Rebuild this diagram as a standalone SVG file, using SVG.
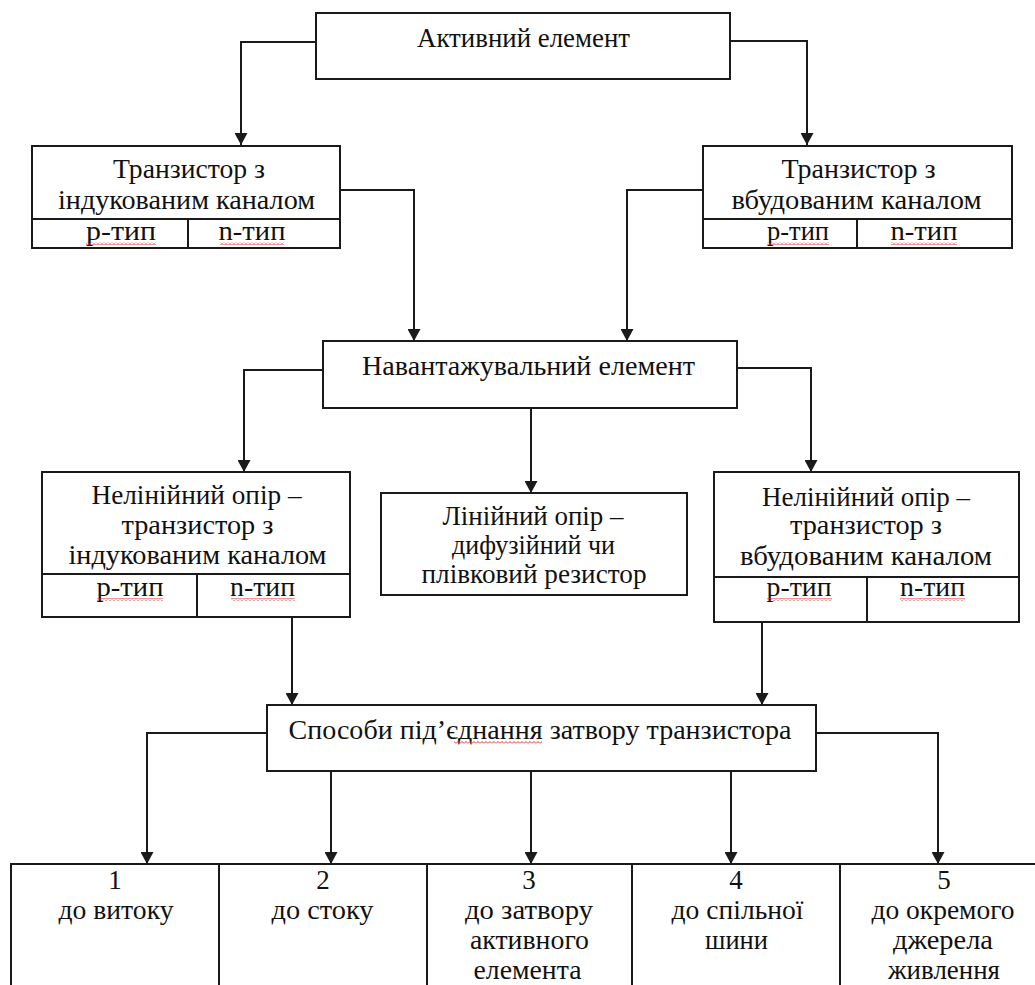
<svg xmlns="http://www.w3.org/2000/svg" width="1035" height="985" viewBox="0 0 1035 985" font-family="'Liberation Serif', 'Times New Roman', serif">
<style>
.box{fill:#fff;stroke:#1a1a1a;stroke-width:2}
.ln{fill:none;stroke:#1a1a1a;stroke-width:2}
.t{font-family:'Liberation Serif','Times New Roman',serif;font-size:27px;fill:#111;text-anchor:middle}
.sq{fill:url(#squig)}
</style>
<defs>
<marker id="arr" markerUnits="userSpaceOnUse" markerWidth="13" markerHeight="13" refX="12" refY="6.5" orient="auto">
<path d="M0,0 L12,6.5 L0,13 z" fill="#1a1a1a"/>
</marker>
<pattern id="squig" patternUnits="userSpaceOnUse" width="4" height="3">
<path d="M0,2.5 L2,0.5 L4,2.5" fill="none" stroke="#e03030" stroke-width="1"/>
</pattern>
</defs>
<rect width="1035" height="985" fill="#fff"/>

<g id="connectors">
<path class="ln" d="M316,42 H241 V145" marker-end="url(#arr)"/>
<path class="ln" d="M730,41 H807 V145" marker-end="url(#arr)"/>
<path class="ln" d="M340,190 H414 V341" marker-end="url(#arr)"/>
<path class="ln" d="M703,190 H627 V341" marker-end="url(#arr)"/>
<path class="ln" d="M323,370 H244 V472" marker-end="url(#arr)"/>
<path class="ln" d="M737,368 H811 V472" marker-end="url(#arr)"/>
<path class="ln" d="M531,408 V493" marker-end="url(#arr)"/>
<path class="ln" d="M292,617 V705" marker-end="url(#arr)"/>
<path class="ln" d="M762,622 V705" marker-end="url(#arr)"/>
<path class="ln" d="M267,733 H147 V864" marker-end="url(#arr)"/>
<path class="ln" d="M331,771 V864" marker-end="url(#arr)"/>
<path class="ln" d="M531,771 V864" marker-end="url(#arr)"/>
<path class="ln" d="M731,771 V864" marker-end="url(#arr)"/>
<path class="ln" d="M816,733 H938 V864" marker-end="url(#arr)"/>
</g>

<g id="active">
<rect class="box" x="316" y="13" width="414" height="66"/>
<text class="t" x="523.5" y="47" textLength="213" lengthAdjust="spacingAndGlyphs">Активний елемент</text>
</g>

<g id="tr-induced">
<rect class="box" x="32" y="146" width="308" height="102"/>
<path class="ln" d="M32,219 H340 M188,219 V248"/>
<text class="t" x="189" y="178" textLength="152" lengthAdjust="spacingAndGlyphs">Транзистор з</text>
<text class="t" x="186.5" y="209" textLength="257" lengthAdjust="spacingAndGlyphs">індукованим каналом</text>
<text class="t" x="121" y="240" textLength="70" lengthAdjust="spacingAndGlyphs">p-тип</text>
<text class="t" x="252" y="240" textLength="67" lengthAdjust="spacingAndGlyphs">n-тип</text>
<rect class="sq" x="86" y="242" width="70" height="3"/>
<rect class="sq" x="220" y="242" width="64" height="3"/>
</g>

<g id="tr-built">
<rect class="box" x="703" y="146" width="309" height="102"/>
<path class="ln" d="M703,219 H1012 M857,219 V248"/>
<text class="t" x="858.5" y="178" textLength="154" lengthAdjust="spacingAndGlyphs">Транзистор з</text>
<text class="t" x="856.5" y="209" textLength="250" lengthAdjust="spacingAndGlyphs">вбудованим каналом</text>
<text class="t" x="798" y="240" textLength="62" lengthAdjust="spacingAndGlyphs">p-тип</text>
<text class="t" x="924" y="240" textLength="67" lengthAdjust="spacingAndGlyphs">n-тип</text>
<rect class="sq" x="767" y="242" width="62" height="3"/>
<rect class="sq" x="891" y="242" width="66" height="3"/>
</g>

<g id="load">
<rect class="box" x="323" y="341" width="414" height="67"/>
<text class="t" x="528.5" y="375" textLength="333" lengthAdjust="spacingAndGlyphs">Навантажувальний елемент</text>
</g>

<g id="nonlin-induced">
<rect class="box" x="42" y="472" width="308" height="145"/>
<path class="ln" d="M42,574 H350 M197,574 V617"/>
<text class="t" x="196.5" y="504" textLength="210" lengthAdjust="spacingAndGlyphs">Нелінійний опір –</text>
<text class="t" x="197.5" y="534" textLength="152" lengthAdjust="spacingAndGlyphs">транзистор з</text>
<text class="t" x="197.5" y="564" textLength="258" lengthAdjust="spacingAndGlyphs">індукованим каналом</text>
<text class="t" x="130" y="596" textLength="67" lengthAdjust="spacingAndGlyphs">p-тип</text>
<text class="t" x="262.5" y="596" textLength="65" lengthAdjust="spacingAndGlyphs">n-тип</text>
<rect class="sq" x="97" y="598" width="66" height="3"/>
<rect class="sq" x="231" y="598" width="64" height="3"/>
</g>

<g id="linear">
<rect class="box" x="381" y="493" width="306" height="102"/>
<text class="t" x="533" y="525" textLength="181" lengthAdjust="spacingAndGlyphs">Лінійний опір –</text>
<text class="t" x="533.5" y="554" textLength="163" lengthAdjust="spacingAndGlyphs">дифузійний чи</text>
<text class="t" x="534" y="583" textLength="225" lengthAdjust="spacingAndGlyphs">плівковий резистор</text>
</g>

<g id="nonlin-built">
<rect class="box" x="714" y="472" width="305" height="150"/>
<path class="ln" d="M714,577 H1019 M867,577 V622"/>
<text class="t" x="866" y="506" textLength="208" lengthAdjust="spacingAndGlyphs">Нелінійний опір –</text>
<text class="t" x="866" y="534" textLength="152" lengthAdjust="spacingAndGlyphs">транзистор з</text>
<text class="t" x="866" y="565" textLength="252" lengthAdjust="spacingAndGlyphs">вбудованим каналом</text>
<text class="t" x="799" y="596" textLength="65" lengthAdjust="spacingAndGlyphs">p-тип</text>
<text class="t" x="932.5" y="596" textLength="65" lengthAdjust="spacingAndGlyphs">n-тип</text>
<rect class="sq" x="767" y="598" width="65" height="3"/>
<rect class="sq" x="900" y="598" width="65" height="3"/>
</g>

<g id="gate-methods">
<rect class="box" x="267" y="705" width="549" height="66"/>
<text class="t" x="540" y="739" textLength="503" lengthAdjust="spacingAndGlyphs">Способи під’єднання затвору транзистора</text>
<rect class="sq" x="454" y="741" width="88" height="3"/>
</g>

<g id="bottom-row">
<rect class="box" x="11" y="864" width="1037" height="140"/>
<path class="ln" d="M219,864 V1000 M427,864 V1000 M632,864 V1000 M840,864 V1000"/>
</g>
<g id="m1">
<text class="t" x="115" y="889">1</text>
<text class="t" x="116" y="919" textLength="115" lengthAdjust="spacingAndGlyphs">до витоку</text>
</g>
<g id="m2">
<text class="t" x="323" y="889">2</text>
<text class="t" x="322.5" y="919" textLength="102" lengthAdjust="spacingAndGlyphs">до стоку</text>
</g>
<g id="m3">
<text class="t" x="529" y="889">3</text>
<text class="t" x="529" y="919" textLength="128" lengthAdjust="spacingAndGlyphs">до затвору</text>
<text class="t" x="529.5" y="949" textLength="119" lengthAdjust="spacingAndGlyphs">активного</text>
<text class="t" x="527.5" y="979" textLength="108" lengthAdjust="spacingAndGlyphs">елемента</text>
</g>
<g id="m4">
<text class="t" x="736" y="889">4</text>
<text class="t" x="737.5" y="919" textLength="132" lengthAdjust="spacingAndGlyphs">до спільної</text>
<text class="t" x="736.5" y="949" textLength="63" lengthAdjust="spacingAndGlyphs">шини</text>
</g>
<g id="m5">
<text class="t" x="944" y="889">5</text>
<text class="t" x="943" y="919" textLength="143" lengthAdjust="spacingAndGlyphs">до окремого</text>
<text class="t" x="943" y="949" textLength="100" lengthAdjust="spacingAndGlyphs">джерела</text>
<text class="t" x="944" y="979" textLength="112" lengthAdjust="spacingAndGlyphs">живлення</text>
</g>
</svg>
